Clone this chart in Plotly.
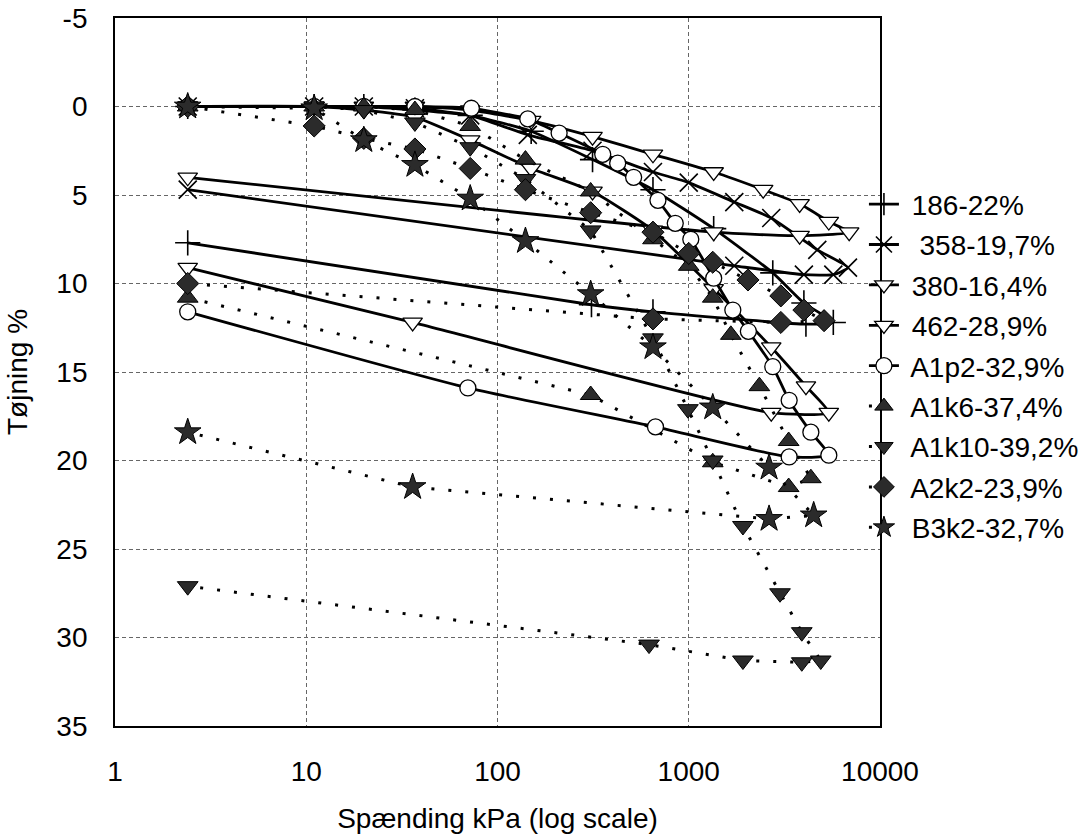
import plotly.graph_objects as go

# ---------------- data ----------------
names = [" 186-22%", "  358-19,7%", " 380-16,4%", " 462-28,9%", " A1p2-32,9%",
         " A1k6-37,4%", " A1k10-39,2%", " A2k2-23,9%", " B3k2-32,7%"]

x_186 = [2.4, 11, 20, 37, 72, 150, 314, 650, 1350, 2750, 4000, 5700, 4100, 650, 310, 2.4]
y_186 = [0, 0, 0, 0.2, 0.5, 1.4, 3.0, 4.7, 6.9, 9.4, 11.1, 12.2, 12.3, 11.6, 11.2, 7.7]

x_358 = [2.4, 11, 20, 37, 72, 144, 314, 650, 1000, 1730, 2700, 4700, 6800, 5700, 4000, 1730, 2.4]
y_358 = [0, 0, 0, 0.1, 0.5, 1.6, 2.5, 3.7, 4.3, 5.4, 6.3, 8.1, 9.1, 9.5, 9.5, 9.0, 4.7]

x_380 = [2.4, 11, 20, 37, 72, 150, 314, 650, 1350, 2450, 3800, 5400, 6900, 3800, 1350, 2.4]
y_380 = [0, 0, 0, 0, 0.2, 0.8, 1.7, 2.7, 3.7, 4.7, 5.5, 6.5, 7.1, 7.3, 7.1, 4.0]

x_462 = [2.4, 11, 20, 37, 72, 150, 314, 650, 1350, 2700, 4100, 5400, 2700, 36, 2.4]
y_462 = [0, 0, 0.2, 0.6, 1.9, 3.5, 4.8, 7.0, 10.3, 13.6, 15.8, 17.3, 17.3, 12.2, 9.1]

x_a1p2 = [2.4, 11, 20, 37, 73, 144, 210, 355, 425, 515, 690, 850, 1025, 1350, 1700,
          2050, 2750, 3350, 4350, 5400, 3350, 670, 70, 2.4]
y_a1p2 = [0, 0, 0, 0, 0.1, 0.7, 1.5, 2.7, 3.2, 4.0, 5.3, 6.6, 7.5, 9.7, 11.5,
          12.7, 14.7, 16.6, 18.4, 19.7, 19.8, 18.1, 15.9, 11.6]

x_a1k6 = [2.4, 11, 20, 37, 72, 140, 307, 650, 1000, 1335, 1660, 2340, 3330, 4350, 3330, 1335, 307, 2.4]
y_a1k6 = [0, 0, 0, 0.2, 1.1, 3.0, 4.8, 7.5, 9.0, 10.8, 12.9, 15.8, 18.9, 21.0, 21.5, 20.1, 16.3, 10.8]

x_a1k10 = [2.4, 11, 20, 37, 72, 140, 307, 650, 990, 1335, 1920, 3000, 3900, 4900, 3900, 1920, 620, 2.4]
y_a1k10 = [0, 0, 0.2, 0.9, 2.3, 4.1, 7.0, 13.1, 17.1, 20.0, 23.7, 27.5, 29.7, 31.3, 31.4, 31.3, 30.4, 27.1]

x_a2k2 = [2.4, 11, 20, 37, 72, 140, 307, 650, 1000, 1335, 2040, 3030, 4000, 5100, 3030, 650, 2.4]
y_a2k2 = [0, 1.1, 1.8, 2.4, 3.5, 4.7, 6.0, 7.1, 8.3, 8.8, 9.8, 10.7, 11.5, 12.1, 12.2, 12.0, 10.0]

x_b3k2 = [2.4, 11, 20, 37, 72, 140, 307, 650, 1335, 2630, 4500, 2630, 36, 2.4]
y_b3k2 = [0, 0.1, 1.9, 3.3, 5.2, 7.6, 10.6, 13.6, 17.0, 20.4, 23.1, 23.3, 21.5, 18.4]

x_ticks = [1, 10, 100, 1000, 10000]
x_tick_labels = ["1", "10", "100", "1000", "10000"]
y_ticks = [-5, 0, 5, 10, 15, 20, 25, 30, 35]
y_tick_labels = ["-5", "0", "5", "10", "15", "20", "25", "30", "35"]

# ---------------- styles ----------------
FONT = "Liberation Sans, Arial, sans-serif"
FS = 28
DOT = "3px,14px"
DARK = "#2b2b2b"

series = [
    (x_186, y_186, dict(symbol="cross-thin", size=18, color="black", line=dict(color="black", width=1.6)), "solid"),
    (x_358, y_358, dict(symbol="x-thin", size=18, color="black", line=dict(color="black", width=1.6)), "solid"),
    (x_380, y_380, dict(symbol="triangle-down", size=17, color="white", line=dict(color="black", width=1.3)), "solid"),
    (x_462, y_462, dict(symbol="triangle-down", size=17, color="white", line=dict(color="black", width=1.3)), "solid"),
    (x_a1p2, y_a1p2, dict(symbol="circle", size=16, color="white", line=dict(color="black", width=1.3)), "solid"),
    (x_a1k6, y_a1k6, dict(symbol="triangle-up", size=18, color=DARK, line=dict(color="black", width=1)), DOT),
    (x_a1k10, y_a1k10, dict(symbol="triangle-down", size=18, color=DARK, line=dict(color="black", width=1)), DOT),
    (x_a2k2, y_a2k2, dict(symbol="diamond", size=17, color=DARK, line=dict(color="black", width=1)), DOT),
    (x_b3k2, y_b3k2, dict(symbol="star", size=20, color=DARK, line=dict(color="black", width=1)), DOT),
]

fig = go.Figure()
for i, (xs, ys, mk, dash) in enumerate(series):
    if dash == "solid":
        line = dict(color="black", width=2.8, shape="spline", smoothing=0.5)
    else:
        line = dict(color="black", width=3, dash=dash)
    fig.add_trace(go.Scatter(
        x=xs, y=ys, mode="lines+markers", name=names[i], legendgroup=f"g{i}",
        marker=mk, line=line,
    ))

fig.update_layout(
    width=1090, height=836,
    margin=dict(l=115, r=210, t=18, b=110, autoexpand=False),
    paper_bgcolor="white", plot_bgcolor="white",
    font=dict(family=FONT, size=FS, color="black"),
    showlegend=True,
    legend=dict(
        x=0.979, xanchor="left", y=0.772, yanchor="top",
        bgcolor="rgba(0,0,0,0)", borderwidth=0,
        font=dict(family=FONT, size=FS, color="black"),
        tracegroupgap=1, itemsizing="trace",
    ),
    xaxis=dict(
        type="log", range=[0, 4], automargin=False,
        tickvals=x_ticks, ticktext=x_tick_labels,
        showgrid=True, gridcolor="#666666", gridwidth=1, griddash="4px,3px",
        showline=True, linecolor="black", linewidth=1.8, mirror=True,
        ticks="", ticklabelstandoff=19, ticklabeloverflow="allow",
        zeroline=False,
        title=dict(text="Spænding kPa (log scale)", standoff=23,
                   font=dict(family=FONT, size=FS, color="black")),
    ),
    yaxis=dict(
        range=[35, -5], automargin=False,
        tickvals=y_ticks, ticktext=y_tick_labels,
        showgrid=True, gridcolor="#666666", gridwidth=1, griddash="4px,3px",
        showline=True, linecolor="black", linewidth=1.8, mirror=True,
        ticks="", ticklabelstandoff=20, ticklabeloverflow="allow",
        zeroline=False,
        title=dict(text="Tøjning %", standoff=21,
                   font=dict(family=FONT, size=FS, color="black")),
    ),
)

# remove the default 8px page margin so the figure fills the window exactly
fig.write_html("out.html", config={"displayModeBar": False},
               post_script="document.body.style.margin='0';")
